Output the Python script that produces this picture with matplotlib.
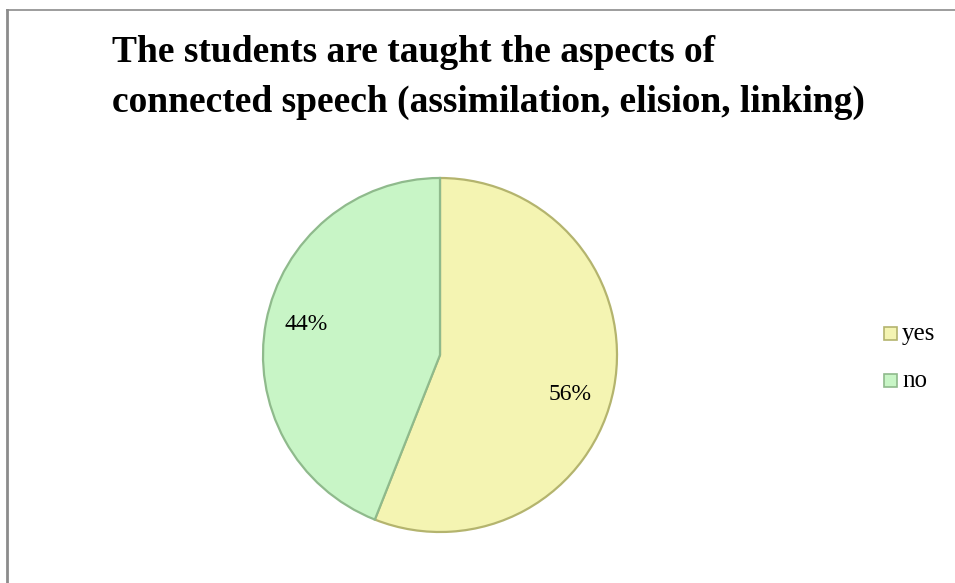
import matplotlib
matplotlib.use("Agg")
import matplotlib.pyplot as plt
import numpy as np
from matplotlib.patches import Rectangle
from matplotlib.lines import Line2D

# survey answers
labels = ["yes", "no"]
shares = [56, 44]
fills = ["#F4F4B2", "#C8F5C6"]
edges = ["#B4B46E", "#8FBA8C"]

plt.rcParams["font.family"] = ["Liberation Serif", "DejaVu Serif"]

fig = plt.figure(figsize=(9.55, 5.83), dpi=100)
W, H = 955, 583

# chart frame (left and top edges visible)
fig.add_artist(Line2D([6.5 / W, 6.5 / W], [0, 1 - 9.5 / H], color="#8c8c8c", lw=2.0))
fig.add_artist(Line2D([6.5 / W, 1], [1 - 9.5 / H, 1 - 9.5 / H], color="#8c8c8c", lw=1.2))

fig.text(112 / W, 1 - 53 / H, "The students are taught the aspects of",
         fontsize=27, fontweight="bold", va="center", ha="left")
fig.text(112 / W, 1 - 102 / H, "connected speech (assimilation, elision, linking)",
         fontsize=27, fontweight="bold", va="center", ha="left")

# pie area: center (440, 355), radius 177 px
cx, cy, r = 440, 355, 177
ax = fig.add_axes([(cx - r) / W, 1 - (cy + r) / H, 2 * r / W, 2 * r / H])
wedges, texts = ax.pie(shares, colors=fills, startangle=90, counterclock=False,
                       wedgeprops=dict(linewidth=1.6))
for w, ec in zip(wedges, edges):
    w.set_edgecolor(ec)
ax.set_xlim(-1, 1)
ax.set_ylim(-1, 1)
ax.set_aspect("equal")

# value labels, nudged a little off the slice bisector
nudge = [(0.0, -0.08), (-0.02, 0.03)]
for w, s, (dx, dy) in zip(wedges, shares, nudge):
    ang = np.deg2rad((w.theta1 + w.theta2) / 2)
    ax.text(0.75 * np.cos(ang) + dx, 0.75 * np.sin(ang) + dy, f"{s}%",
            ha="center", va="center", fontsize=17)

# legend
for i, (lab, fc, ec) in enumerate(zip(labels, fills, edges)):
    y = 333 + i * 47
    fig.add_artist(Rectangle((884 / W, 1 - (y + 7) / H), 13 / W, 13 / H,
                             facecolor=fc, edgecolor=ec, lw=1.2))
    fig.text(902 / W, 1 - (y + 1) / H, lab, fontsize=18, va="center", ha="left")

fig.savefig("out.png", dpi=100, facecolor="white")
